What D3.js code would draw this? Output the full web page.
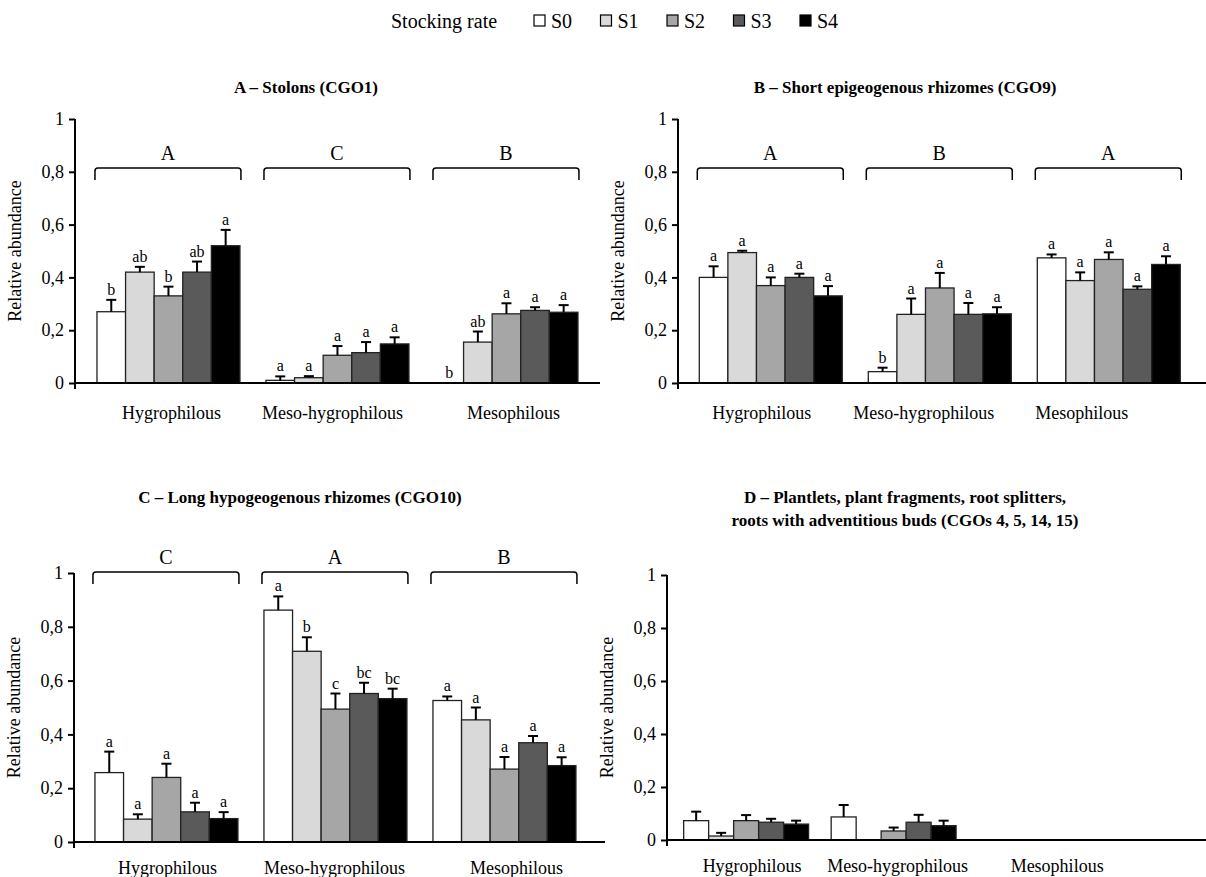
<!DOCTYPE html>
<meta charset="utf-8">
<html>
<head>
<script src="https://d3js.org/d3.v7.min.js"></script>
<style>
  body { margin: 0; background: #fff; }
  svg text { font-family: "Liberation Serif", "DejaVu Serif", serif !important; fill: #000; }
</style>
</head>
<body>
<div id="my_dataviz"></div>
<script>

// categories
var stockingRates = ["S0", "S1", "S2", "S3", "S4"];
var habitats = ["Hygrophilous", "Meso-hygrophilous", "Mesophilous"];
var yTicks = [0, 0.2, 0.4, 0.6, 0.8, 1];

// A - Stolons (CGO1): rows = habitat, cols = stocking rate
var stolonMeans  = [[0.27, 0.42, 0.33, 0.42, 0.52], [0.01, 0.02, 0.105, 0.115, 0.148], [0, 0.155, 0.262, 0.275, 0.268]];
var stolonErrors = [[0.045, 0.02, 0.035, 0.04, 0.06], [0.015, 0.006, 0.035, 0.04, 0.025], [0, 0.04, 0.04, 0.012, 0.027]];
var stolonLetters = [["b", "ab", "b", "ab", "a"], ["a", "a", "a", "a", "a"], ["b", "ab", "a", "a", "a"]];
var stolonGroups = ["A", "C", "B"];

// B - Short epigeogenous rhizomes (CGO9)
var shortMeans  = [[0.40, 0.494, 0.369, 0.40, 0.33], [0.043, 0.26, 0.36, 0.26, 0.262], [0.474, 0.388, 0.468, 0.355, 0.449]];
var shortErrors = [[0.042, 0.007, 0.031, 0.014, 0.037], [0.015, 0.06, 0.057, 0.043, 0.025], [0.013, 0.031, 0.027, 0.011, 0.031]];
var shortLetters = [["a", "a", "a", "a", "a"], ["b", "a", "a", "a", "a"], ["a", "a", "a", "a", "a"]];
var shortGroups = ["A", "B", "A"];

// C - Long hypogeogenous rhizomes (CGO10)
var longMeans  = [[0.258, 0.085, 0.24, 0.112, 0.087], [0.862, 0.709, 0.494, 0.552, 0.533], [0.526, 0.454, 0.271, 0.369, 0.284]];
var longErrors = [[0.078, 0.018, 0.051, 0.034, 0.024], [0.051, 0.052, 0.058, 0.04, 0.037], [0.015, 0.046, 0.045, 0.025, 0.031]];
var longLetters = [["a", "a", "a", "a", "a"], ["a", "b", "c", "bc", "bc"], ["a", "a", "a", "a", "a"]];
var longGroups = ["C", "A", "B"];

// D - Plantlets, fragments, root splitters, roots with buds (CGOs 4, 5, 14, 15)
var plantletMeans  = [[0.073, 0.015, 0.073, 0.067, 0.06], [0.087, 0, 0.034, 0.067, 0.054], [0, 0, 0, 0, 0]];
var plantletErrors = [[0.034, 0.012, 0.021, 0.013, 0.013], [0.045, 0, 0.013, 0.028, 0.019], [0, 0, 0, 0, 0]];

var fills = ["#ffffff", "#d9d9d9", "#a6a6a6", "#5a5a5a", "#000000"];
var serif = "Liberation Serif";

var svg = d3.select("#my_dataviz").append("svg")
  .attr("width", 1206)
  .attr("height", 877)
  .attr("font-family", serif);

// legend
var legend = svg.append("g").attr("transform", "translate(0,28)");
legend.append("text").attr("x", 391).attr("y", 0).style("font-size", "20px").text("Stocking rate");
var lx = d3.scalePoint().domain(stockingRates).range([534, 800]);
stockingRates.forEach(function(s, i) {
  legend.append("rect")
    .attr("x", lx(s)).attr("y", -13).attr("width", 11).attr("height", 11)
    .attr("fill", fills[i]).attr("stroke", "#000").attr("stroke-width", 1.2);
  legend.append("text").attr("x", lx(s) + 17).attr("y", 0).style("font-size", "20px").text(s);
});

function fmt(d) {
  if (d === 0) return "0";
  if (d === 1) return "1";
  return d3.format(".1f")(d).replace(".", ",");
}

function drawPanel(p) {
  var g = svg.append("g");
  var y = d3.scaleLinear().domain([0, 1]).range([p.yZero, p.yOne]);
  var x = d3.scaleBand().domain(habitats)
    .range([p.axisX, p.axisX + p.step * (3 - p.padIn + 2 * p.padOut)])
    .paddingInner(p.padIn).paddingOuter(p.padOut);
  var xs = d3.scaleBand().domain(stockingRates).range([0, x.bandwidth()]);

  // title
  p.title.forEach(function(t, i) {
    g.append("text").attr("x", p.titleX).attr("y", p.titleY + i * 23)
      .attr("text-anchor", "middle").style("font-size", "17px").style("font-weight", "bold").text(t);
  });

  // y axis
  var yAxis = d3.axisLeft(y).tickValues(yTicks).tickFormat(fmt).tickSize(6);
  var ya = g.append("g").attr("transform", "translate(" + p.axisX + ",0)").call(yAxis);
  ya.attr("font-family", serif).attr("font-size", null);
  ya.select(".domain").remove();
  ya.selectAll(".tick line").attr("stroke", "#000").attr("stroke-width", 2);
  ya.selectAll(".tick text").attr("x", -11).style("font-size", "18px");
  g.append("line").attr("x1", p.axisX).attr("x2", p.axisX)
    .attr("y1", y(1)).attr("y2", y(0) + 6).attr("stroke", "#000").attr("stroke-width", 2);

  g.append("text")
    .attr("transform", "translate(" + (p.axisX - 54) + "," + ((y(0) + y(1)) / 2) + ") rotate(-90)")
    .attr("text-anchor", "middle").style("font-size", "18px").text("Relative abundance");

  // bars
  habitats.forEach(function(h, gi) {
    var gg = g.append("g").attr("transform", "translate(" + x(h) + ",0)");
    stockingRates.forEach(function(s, si) {
      var m = p.means[gi][si], e = p.errors[gi][si];
      if (m > 0) {
        gg.append("rect")
          .attr("x", xs(s)).attr("y", y(m))
          .attr("width", xs.bandwidth()).attr("height", y(0) - y(m))
          .attr("fill", fills[si]).attr("stroke", "#222").attr("stroke-width", 1.3);
      }
      var cx = xs(s) + xs.bandwidth() / 2;
      if (e > 0) {
        gg.append("line").attr("x1", cx).attr("x2", cx).attr("y1", y(m)).attr("y2", y(m + e))
          .attr("stroke", "#000").attr("stroke-width", 2);
        gg.append("line").attr("x1", cx - 5).attr("x2", cx + 5).attr("y1", y(m + e)).attr("y2", y(m + e))
          .attr("stroke", "#000").attr("stroke-width", 2);
      }
      if (p.letters) {
        gg.append("text").attr("x", cx).attr("y", y(m + e) - 5)
          .attr("text-anchor", "middle").style("font-size", "16px").text(p.letters[gi][si]);
      }
    });

    // bracket and group letter
    if (p.groups) {
      var x0 = x(h) - 2, x1 = x(h) + x.bandwidth() + 1, yb = p.bracketY;
      g.append("path")
        .attr("d", "M" + x0 + "," + (yb + 12) + " L" + x0 + "," + (yb + 3) + " Q" + x0 + "," + yb + " " + (x0 + 3) + "," + yb +
              " L" + (x1 - 3) + "," + yb + " Q" + x1 + "," + yb + " " + x1 + "," + (yb + 3) + " L" + x1 + "," + (yb + 12))
        .attr("fill", "none").attr("stroke", "#000").attr("stroke-width", 1.5);
      g.append("text").attr("x", (x0 + x1) / 2).attr("y", yb - 8)
        .attr("text-anchor", "middle").style("font-size", "20px").text(p.groups[gi]);
    }

    g.append("text").attr("x", x(h) + x.bandwidth() / 2 + p.labelShift[gi]).attr("y", p.labelY)
      .attr("text-anchor", "middle").style("font-size", "18px").text(h);
  });

  // x axis line
  g.append("line").attr("x1", p.axisX).attr("x2", p.xAxisEnd)
    .attr("y1", y(0)).attr("y2", y(0)).attr("stroke", "#000").attr("stroke-width", 2);
}

drawPanel({
  title: ["A \u2013 Stolons (CGO1)"], titleX: 306, titleY: 93,
  axisX: 75, yZero: 383, yOne: 119, step: 169, padIn: 0.154, padOut: 0.13, xAxisEnd: 600,
  means: stolonMeans, errors: stolonErrors, letters: stolonLetters, groups: stolonGroups,
  bracketY: 168, labelY: 419, labelShift: [3, -5, 7]
});

drawPanel({
  title: ["B \u2013 Short epigeogenous rhizomes (CGO9)"], titleX: 905, titleY: 93,
  axisX: 678, yZero: 383, yOne: 119, step: 169, padIn: 0.154, padOut: 0.126, xAxisEnd: 1206,
  means: shortMeans, errors: shortErrors, letters: shortLetters, groups: shortGroups,
  bracketY: 168, labelY: 419, labelShift: [-9, -16, -27]
});

drawPanel({
  title: ["C \u2013 Long hypogeogenous rhizomes (CGO10)"], titleX: 300, titleY: 503,
  axisX: 74, yZero: 842, yOne: 573, step: 169, padIn: 0.154, padOut: 0.124, xAxisEnd: 605,
  means: longMeans, errors: longErrors, letters: longLetters, groups: longGroups,
  bracketY: 572, labelY: 874, labelShift: [1, -1, 12]
});

drawPanel({
  title: ["D \u2013 Plantlets, plant fragments, root splitters,", "roots with adventitious buds (CGOs 4, 5, 14, 15)"],
  titleX: 905, titleY: 503,
  axisX: 667, yZero: 840, yOne: 575, step: 147.5, padIn: 0.153, padOut: 0.113, xAxisEnd: 1206,
  means: plantletMeans, errors: plantletErrors, letters: null, groups: null,
  labelY: 872, labelShift: [6, 4, 16]
});

</script>
</body>
</html>
